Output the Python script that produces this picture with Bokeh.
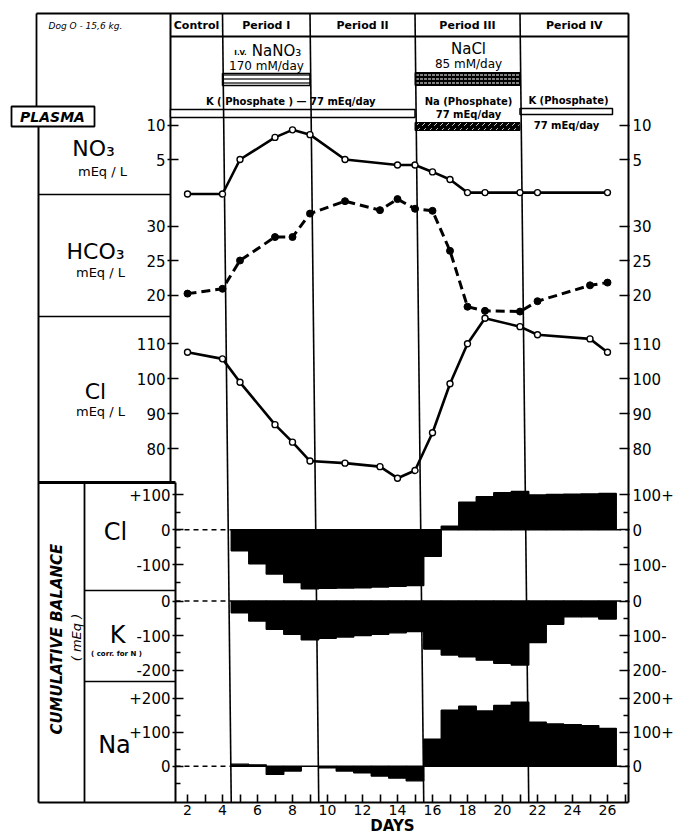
import math
from bokeh.plotting import figure
from bokeh.models import Range1d, LinearAxis, FixedTicker
from bokeh.core.properties import value
from bokeh.embed import file_html
from bokeh.resources import INLINE

# ---------------- data ----------------
no3_days = [2, 4, 5, 7, 8, 9, 11, 14, 15, 16, 17, 18, 19, 21, 22, 26]
no3_vals = [0.0, 0.0, 5.0, 8.2, 9.3, 8.6, 5.0, 4.2, 4.2, 3.2, 2.1, 0.2, 0.2, 0.2, 0.2, 0.2]

hco3_days = [2, 4, 5, 7, 8, 9, 11, 13, 14, 15, 16, 17, 18, 19, 21, 22, 25, 26]
hco3_vals = [20.2, 20.9, 25.0, 28.4, 28.4, 31.8, 33.6, 32.3, 33.9, 32.5, 32.2, 26.4,
             18.3, 17.7, 17.6, 19.1, 21.4, 21.8]

cl_days = [2, 4, 5, 7, 8, 9, 11, 13, 14, 15, 16, 17, 18, 19, 21, 22, 25, 26]
cl_vals = [107.6, 105.7, 99.0, 86.9, 81.9, 76.5, 75.9, 74.9, 71.6, 73.8, 84.6, 98.6,
           110.0, 117.3, 114.9, 112.6, 111.4, 107.6]

bal_days = [5, 6, 7, 8, 9, 10, 11, 12, 13, 14, 15, 16, 17, 18, 19, 20, 21, 22, 23, 24, 25, 26]
cl_bal = [-60, -97, -126, -150, -168, -167, -166, -165, -163, -161, -159, -76, 10, 78, 94,
          105, 109, 99, 100, 101, 102, 103]
k_bal = [-34, -58, -82, -96, -112, -108, -104, -100, -96, -92, -88, -139, -156, -161, -171,
         -180, -185, -120, -67, -46, -46, -52]
na_bal = [6, 4, -24, -14, 0, -5, -14, -19, -29, -35, -43, 79, 164, 176, 162, 178, 188, 129,
          124, 122, 119, 111]

period_names = ["Control", "Period I", "Period II", "Period III", "Period IV"]
period_bounds = [4.5, 9.5, 15.5, 21.5]

x_ticks = [2, 4, 6, 8, 10, 12, 14, 16, 18, 20, 22, 24, 26]
x_minor = [3, 5, 7, 9, 11, 13, 15, 17, 19, 21, 23, 25, 27]
no3_ticks = [5, 10]
hco3_ticks = [20, 25, 30]
clp_ticks = [80, 90, 100, 110]
clb_ticks = [-100, 0, 100]
clb_minor = [-150, -50, 50]
kb_ticks = [-200, -100, 0]
kb_minor = [-150, -50]
nab_ticks = [0, 100, 200]
nab_minor = [-50, 50, 150]

clb_left = {100: "+100", 0: "0", -100: "-100"}
clb_right = {100: "100+", 0: "0", -100: "100-"}
kb_left = {0: "0", -100: "-100", -200: "-200"}
kb_right = {0: "0", -100: "100-", -200: "200-"}
nab_left = {200: "+200", 100: "+100", 0: "0"}
nab_right = {200: "200+", 100: "100+", 0: "0"}

# ---------------- layout ----------------
W, H = 674, 836
X0, XS = 152.0, 17.5          # canvas px of day 0, px per day


def px2day(x):
    return (x - X0) / XS


PANELS = {                      # name: (canvas y of value 0, px per unit)
    "no3": (193.5, 6.9),
    "hco3": (432.5, 6.9),
    "clp": (728.3, 3.5),
    "clb": (529.2, 0.3515),
    "kb": (600.5, 0.346),
    "nab": (765.7, 0.341),
}

FONT = "DejaVu Sans"
PL_AX, BL_AX, R_AX = 170, 175, 628
TOP, HROW, BOTTOM = 13, 36, 802

p = figure(width=W, height=H, x_range=Range1d(px2day(0), px2day(W)),
           y_range=Range1d(H, 0), output_backend="svg", toolbar_location=None,
           x_axis_location=None, y_axis_location=None, min_border=0,
           outline_line_color=None, background_fill_color="white",
           border_fill_color="white")
p.grid.visible = False
p.extra_x_ranges = {"px": Range1d(0, W)}
p.extra_y_ranges = {k: Range1d((a - H) / b, a / b) for k, (a, b) in PANELS.items()}


def seg(x0, y0, x1, y1, w=1.5, dash="solid", xr="px"):
    p.segment(x0=[x0], y0=[y0], x1=[x1], y1=[y1], x_range_name=xr,
              line_color="black", line_width=w, line_dash=dash)


def txt(x, y, s, size, style="normal", align="center", angle=0.0, xr="px"):
    p.text(x=[x], y=[y], text=[s], x_range_name=xr, text_font=value(FONT),
           text_font_size=value(f"{size}px"), text_font_style=value(style),
           text_align=value(align), text_baseline=value("middle"), angle=angle,
           text_color="black")


# ---- frame lines ----
seg(36, TOP, R_AX, TOP, 2)
seg(PL_AX, HROW, R_AX, HROW, 2)
seg(36, TOP, 36, 106, 1.8)
seg(38, 126, 38, BOTTOM, 2)
seg(PL_AX, TOP, PL_AX, 482, 2)
seg(BL_AX, 482, BL_AX, BOTTOM, 2)
seg(R_AX, TOP, R_AX, BOTTOM, 2)
seg(38, 194, PL_AX, 194, 1.6)
seg(38, 316, PL_AX, 316, 1.6)
seg(38, 482, BL_AX, 482, 3)
seg(84, 482, 84, BOTTOM, 1.8)
seg(84, 590, BL_AX, 590, 1.6)
seg(84, 681, BL_AX, 681, 1.6)
seg(38, BOTTOM, R_AX, BOTTOM, 2.2)

# ---- header ----
txt(48, 25, "Dog O - 15,6 kg.", 9, "italic", "left")
edges = [px2day(PL_AX)] + [b - 0.5 for b in period_bounds] + [px2day(R_AX)]
for i, name in enumerate(period_names):
    txt((edges[i] + edges[i + 1]) / 2, 25, name, 11, "bold", xr="default")

# treatment bars
p.quad(left=[period_bounds[0] - 0.5], right=[period_bounds[1] - 0.5], top=[73], bottom=[85],
       fill_color="white", line_color="black", line_width=1.5,
       hatch_pattern="horizontal_line", hatch_color="black", hatch_scale=4, hatch_weight=1.2)
p.quad(left=[period_bounds[2] - 0.5], right=[period_bounds[3] - 0.5], top=[72], bottom=[85],
       fill_color="black", line_color="black", line_width=1,
       hatch_pattern="horizontal_dash", hatch_color="white", hatch_scale=4, hatch_weight=1)
p.quad(left=[px2day(PL_AX)], right=[period_bounds[2] - 0.5], top=[109], bottom=[117],
       fill_color="white", line_color="black", line_width=1.5)
p.quad(left=[period_bounds[2] - 0.5], right=[period_bounds[3] - 0.5], top=[122], bottom=[130],
       fill_color="black", line_color="black", line_width=1,
       hatch_pattern="right_diagonal_dash", hatch_color="#cccccc", hatch_scale=6, hatch_weight=1)
p.quad(left=[period_bounds[3] - 0.5], right=[px2day(612)], top=[108], bottom=[114],
       fill_color="white", line_color="black", line_width=1.5)

txt(240, 52, "I.V.", 7, "bold")
txt(276, 50, "NaNO₃", 15)
txt(266, 65, "170 mM/day", 12)
txt(468, 48, "NaCl", 15)
txt(468, 63, "85 mM/day", 12)
txt(292, 101, "K ( Phosphate )  — 77 mEq/day", 10, "bold")
txt(468, 101, "Na (Phosphate)", 10, "bold")
txt(468, 114, "77 mEq/day", 10, "bold")
txt(568, 100, "K (Phosphate)", 10, "bold")
txt(566, 125, "77 mEq/day", 10, "bold")

# PLASMA box
p.quad(left=[11], right=[94], top=[106], bottom=[126], x_range_name="px",
       fill_color="white", line_color="black", line_width=1.8)
txt(52, 116, "PLASMA", 14, "bold italic")

# period boundary lines (slightly slanted as in the scanned original)
p.segment(x0=[b - 0.5 for b in period_bounds], y0=[TOP] * 4, x1=period_bounds,
          y1=[BOTTOM] * 4, line_color="black", line_width=1.6)

# ---- left label column ----
txt(93, 148, "NO₃", 22)
txt(102, 171, "mEq / L", 13)
txt(95, 251, "HCO₃", 22)
txt(100, 272, "mEq / L", 13)
txt(95, 391, "Cl", 22)
txt(100, 411, "mEq / L", 13)
txt(56, 636, "CUMULATIVE  BALANCE", 15, "bold italic", angle=math.pi / 2)
txt(76, 637, "( mEq )", 13, "italic", angle=math.pi / 2)
txt(115, 531, "Cl", 24)
txt(117, 634, "K", 24)
txt(116, 653, "( corr. for N )", 7, "bold")
txt(114, 744, "Na", 24)
txt(392, 825, "DAYS", 15, "bold")

# ---- plasma series ----
p.line(no3_days, no3_vals, y_range_name="no3", line_color="black", line_width=2.6)
p.scatter(no3_days, no3_vals, y_range_name="no3", marker="circle", size=6,
          fill_color="white", line_color="black", line_width=1.4)
p.line(hco3_days, hco3_vals, y_range_name="hco3", line_color="black", line_width=3,
       line_dash="9 5")
p.scatter(hco3_days, hco3_vals, y_range_name="hco3", marker="circle", size=7,
          fill_color="black", line_color="black")
p.line(cl_days, cl_vals, y_range_name="clp", line_color="black", line_width=2.6)
p.scatter(cl_days, cl_vals, y_range_name="clp", marker="circle", size=6,
          fill_color="white", line_color="black", line_width=1.4)

# ---- cumulative balance bars ----
lefts = [d - 0.5 for d in bal_days]
rights = [d + 0.5 for d in bal_days]
for rng, vals in (("clb", cl_bal), ("kb", k_bal), ("nab", na_bal)):
    p.quad(left=lefts, right=rights, bottom=[0] * len(vals), top=vals, y_range_name=rng,
           fill_color="black", line_color="black", line_width=1.4)
    p.segment(x0=[px2day(BL_AX), rights[-1]], y0=[0, 0], x1=[lefts[0], px2day(R_AX)],
              y1=[0, 0], y_range_name=rng, line_color="black", line_width=1.5,
              line_dash="5 4")


# ---- axes ----
def add_y_axis(rng, side, xpx, ticks, minor=(), overrides=None):
    left = side == "left"
    ax = LinearAxis(y_range_name=rng, fixed_location=px2day(xpx),
                    ticker=FixedTicker(ticks=list(ticks), minor_ticks=list(minor)),
                    axis_line_color=None,
                    major_tick_line_color="black", major_tick_line_width=1.6,
                    minor_tick_line_color="black", minor_tick_line_width=1.6,
                    major_tick_in=8 if left else 9, major_tick_out=3 if left else 1,
                    minor_tick_in=5, minor_tick_out=0,
                    major_label_standoff=2 if left else 3,
                    major_label_text_font=FONT, major_label_text_font_size="15px",
                    major_label_text_color="black")
    if overrides:
        ax.major_label_overrides = overrides
    p.add_layout(ax, side)


for side in ("left", "right"):
    add_y_axis("no3", side, PL_AX if side == "left" else R_AX, no3_ticks)
    add_y_axis("hco3", side, PL_AX if side == "left" else R_AX, hco3_ticks)
    add_y_axis("clp", side, PL_AX if side == "left" else R_AX, clp_ticks)
add_y_axis("clb", "left", BL_AX, clb_ticks, clb_minor, clb_left)
add_y_axis("clb", "right", R_AX, clb_ticks, clb_minor, clb_right)
add_y_axis("kb", "left", BL_AX, kb_ticks, kb_minor, kb_left)
add_y_axis("kb", "right", R_AX, kb_ticks, kb_minor, kb_right)
add_y_axis("nab", "left", BL_AX, nab_ticks, nab_minor, nab_left)
add_y_axis("nab", "right", R_AX, nab_ticks, nab_minor, nab_right)

xax = LinearAxis(fixed_location=BOTTOM,
                 ticker=FixedTicker(ticks=x_ticks, minor_ticks=x_minor),
                 axis_line_color=None, major_tick_in=8, major_tick_out=0,
                 minor_tick_in=8, minor_tick_out=0,
                 major_tick_line_width=1.6, minor_tick_line_width=1.6,
                 major_label_standoff=2, major_label_text_font=FONT,
                 major_label_text_font_size="14px", major_label_text_color="black")
p.add_layout(xax, "below")

open("out.html", "w").write(file_html(p, INLINE))
